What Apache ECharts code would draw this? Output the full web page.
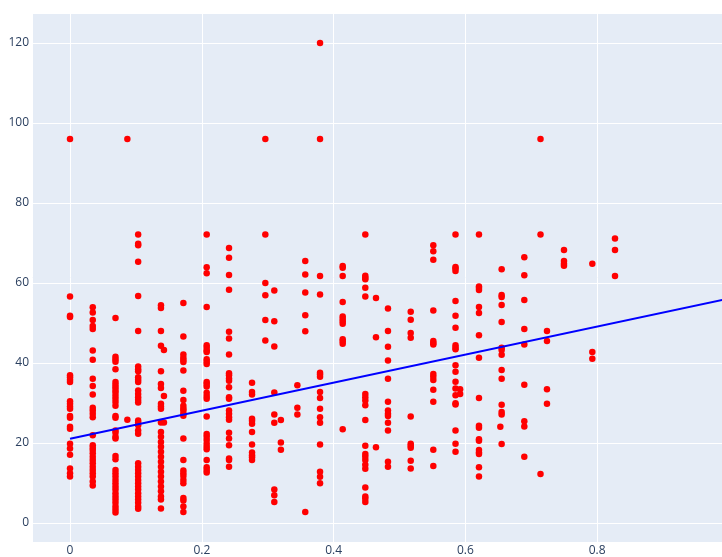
<!DOCTYPE html>
<html>
<head>
<meta charset="utf-8">
<script src="https://cdn.jsdelivr.net/npm/echarts@6/dist/echarts.min.js"></script>
<style>
  html, body { margin: 0; padding: 0; background: #ffffff; }
  #chart { width: 722px; height: 557px; }
</style>
</head>
<body>
<div id="chart"></div>
<script>
// x position of each column of points
var colX = [0, 0.0345, 0.069, 0.087, 0.1034, 0.138, 0.1425, 0.172, 0.2074, 0.2413,
  0.2762, 0.2964, 0.310, 0.320, 0.345, 0.357, 0.3794, 0.4138, 0.4481, 0.4643,
  0.4825, 0.517, 0.5513, 0.585, 0.592, 0.6206, 0.655, 0.653, 0.6894, 0.714,
  0.7238, 0.7496, 0.7926, 0.827];

// y values of the points in each column
var colY = [
  [96, 56.6, 51.8, 51.5, 36.9, 36.4, 35.8, 35.2, 30.4, 29.8, 29.1, 28.5, 26.7, 26.3, 24, 23.5, 19.8, 18.6, 17, 13.6, 12.4, 11.6],
  [53.9, 52.6, 50.7, 49.2, 48.5, 43.1, 40.8, 36, 34.2, 32.1, 28.8, 28.1, 27.3, 26.4, 21.9, 19.4, 18.8, 18.2, 17.4, 16.5, 15.7, 14.9, 14, 13.2, 12.4, 11.6, 10.3, 9.3],
  [51.2, 41.5, 40.9, 40.3, 38.4, 35.2, 34.5, 33.9, 33.2, 32.6, 31.8, 31, 30.2, 29.3, 26.7, 26.3, 23.1, 22.5, 21.5, 21.1, 16.7, 15.9, 13.2, 12.4, 11.6, 10.7, 9.9, 9.1, 8.3, 7.4, 6.6, 5.8, 5, 4.1, 3.3, 2.6],
  [96, 25.8],
  [72.1, 69.8, 69.4, 65.3, 56.7, 48, 39.1, 38.4, 37.9, 36.4, 35.8, 35.2, 33.1, 32.2, 31.4, 30.7, 30.1, 25.6, 25.1, 24.4, 23.1, 22.3, 14.9, 14, 13.2, 12.4, 11.6, 10.7, 9.9, 9.1, 8.3, 7.4, 6.6, 5.8, 5, 4.1, 3.5],
  [54.4, 53.7, 48, 44.3, 37.9, 34.7, 33.7, 29.8, 29.1, 28.5, 25.1, 22.7, 21.5, 20.2, 19, 17.8, 16.5, 15.3, 14, 12.8, 11.6, 10.3, 9.1, 7.9, 6.6, 5.8, 3.6],
  [43.2, 31.7, 25.1],
  [55, 46.6, 42.1, 41.3, 40.7, 40.2, 38.1, 33, 30.7, 29.3, 28.6, 28.1, 27.3, 26.8, 21.1, 15.7, 13.1, 12.4, 11.7, 10.7, 9.9, 6.2, 5.6, 4.1, 2.7],
  [72.1, 63.9, 62.4, 54, 44.4, 43.8, 43.1, 42.7, 40.9, 40.3, 39.7, 35.2, 34.7, 34.1, 32.5, 31.7, 31, 26.6, 22.2, 21.5, 20.7, 19.8, 19, 18.4, 15.7, 13.9, 13.2, 12.6],
  [68.7, 66.3, 62, 58.3, 47.8, 46.1, 42.1, 37.4, 36.9, 36.1, 35.5, 33.9, 31.4, 31, 28.1, 27.3, 26.4, 25.8, 22.5, 21.1, 19.4, 16.1, 15.7, 14],
  [35, 32.7, 32.1, 26, 25.5, 24.8, 22.7, 19.6, 17.6, 16.9, 16.4, 15.7],
  [96, 72.1, 60, 56.9, 50.7, 45.6],
  [58.1, 50.4, 44.1, 32.6, 27.1, 25, 8.3, 6.9, 5.2],
  [25.7, 20.1, 18.3],
  [34.4, 28.8, 27.1],
  [65.5, 62.1, 57.6, 51.9, 47.9, 2.7],
  [120, 96, 61.7, 57.1, 37.5, 37.1, 36.5, 32.7, 31.2, 28.5, 26.4, 25, 19.6, 12.8, 11.5, 9.9],
  [64.2, 63.8, 61.7, 55.2, 51.6, 51, 50.4, 49.8, 45.9, 45.4, 44.8, 23.4],
  [72.1, 61.8, 61.3, 60.9, 58.8, 56.6, 32.2, 31.4, 30.6, 29.4, 25.7, 19.3, 17.2, 16.5, 15.7, 14.5, 13.5, 8.8, 6.6, 6, 5.2],
  [56.2, 46.4, 18.9],
  [53.6, 48, 44, 40.6, 36, 30.3, 28.1, 27.3, 26.7, 25, 23.1, 15.3, 14],
  [52.8, 50.8, 47.5, 46.3, 26.6, 19.8, 19.3, 18.8, 15.5, 13.6],
  [69.4, 67.9, 65.8, 53.1, 45.5, 45, 44.6, 37.2, 36.5, 35.7, 33.3, 30.3, 18.3, 14.2],
  [72.1, 64, 63.6, 63, 55.5, 51.8, 48.8, 44.4, 43.8, 43.4, 39.4, 37.8, 35.3, 33.6, 31.9, 29.9, 29.6, 23.1, 19.8, 17.8],
  [33.4, 32.2],
  [72.1, 59.1, 58.7, 58.2, 54, 52.5, 46.9, 41.3, 31.2, 24.3, 23.8, 20.9, 20.5, 18.2, 17.6, 17.2, 13.9, 11.6],
  [63.4, 57, 56.5, 54.5, 50.2, 43.8, 43.2, 42, 38.2, 36, 29.5, 27.7, 27.1, 19.7],
  [24],
  [66.4, 61.9, 55.7, 48.5, 44.6, 34.5, 25.4, 24.1, 16.5],
  [96, 72.1, 12.2],
  [48, 45.5, 33.4, 29.8],
  [68.2, 65.5, 64.8, 64.3],
  [64.8, 42.7, 41],
  [71.1, 68.2, 61.7]
];

// fitted line end points
var lineX = [0, 1.0];
var lineY = [21.0, 56.1];

var points = [];
colX.forEach(function (x, i) {
  colY[i].forEach(function (y) {
    points.push([x, y]);
  });
});
var fit = lineX.map(function (x, i) { return [x, lineY[i]]; });

var chart = echarts.init(document.getElementById("chart"));
var labelStyle = { color: "#2a3f5f", fontSize: 12, fontFamily: "Open Sans" };

chart.setOption({
  backgroundColor: "#ffffff",
  animation: false,
  grid: {
    left: 32,
    right: 0,
    top: 13,
    bottom: 11,
    show: true,
    backgroundColor: "#E5ECF6",
    borderWidth: 0
  },
  xAxis: {
    type: "value",
    min: -0.0577,
    max: 0.9894,
    minInterval: 0.2,
    maxInterval: 0.2,
    axisLine: { show: false },
    axisTick: { show: false },
    axisLabel: Object.assign({ margin: 3, showMinLabel: false, showMaxLabel: false }, labelStyle),
    splitLine: { lineStyle: { color: "#ffffff", width: 1 } }
  },
  yAxis: {
    type: "value",
    min: -4.8,
    max: 127.5,
    minInterval: 20,
    maxInterval: 20,
    axisLine: { show: false },
    axisTick: { show: false },
    axisLabel: Object.assign({ margin: 3, showMinLabel: false, showMaxLabel: false }, labelStyle),
    splitLine: { lineStyle: { color: "#ffffff", width: 1 } }
  },
  series: [
    {
      type: "scatter",
      data: points,
      symbolSize: 6.5,
      itemStyle: { color: "#ff0000", opacity: 1 }
    },
    {
      type: "line",
      data: fit,
      showSymbol: false,
      clip: true,
      lineStyle: { color: "#0000ff", width: 2 }
    }
  ]
});
</script>
</body>
</html>
